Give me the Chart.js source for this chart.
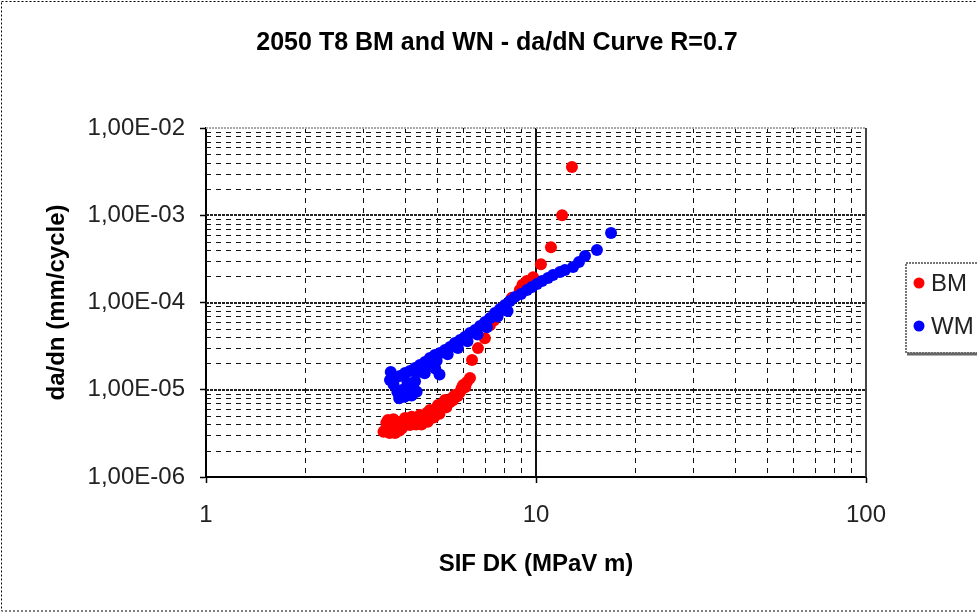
<!DOCTYPE html>
<html><head><meta charset="utf-8">
<script src="https://cdn.jsdelivr.net/npm/chart.js@4/dist/chart.umd.min.js"></script>
<style>html,body{margin:0;padding:0;background:#fff;}#wrap{width:977px;height:613px;}</style>
</head><body><div id="wrap"><canvas id="c" width="977" height="613"></canvas></div>
<script>
const chartTitle = '2050 T8 BM and WN - da/dN Curve R=0.7';
const xAxisTitle = 'SIF DK (MPaV m)';
const yAxisTitle = 'da/dn (mm/cycle)';
const seriesNames = ['BM', 'WM'];
const seriesColors = ['#ff0000', '#0000ff'];
const xDecades = [1, 10, 100];
const yDecades = [1e-6, 1e-5, 1e-4, 1e-3, 1e-2];
const minorSteps = [2, 3, 4, 5, 6, 7, 8, 9];
const xTickLabels = ['1', '10', '100'];
const yTickLabels = ['1,00E-06', '1,00E-05', '1,00E-04', '1,00E-03', '1,00E-02'];

// BM series
const bmK = [3.45,3.49,3.52,3.56,3.60,3.66,3.70,3.74,3.78,3.82,3.86,3.93,3.97,4.01,4.07,4.15,4.20,4.27,4.33,4.39,4.45,4.53,4.61,4.69,4.77,4.85,4.94,5.00,5.05,5.12,5.19,5.25,5.30,5.40,5.49,5.58,5.68,5.78,5.89,5.95,6.01,6.10,6.18,6.31,
  4.50,4.70,4.90,5.10,5.35,5.60,
  6.40,6.67,7.00,7.25,7.45,7.61,7.85,8.06,8.44,8.93,9.10,9.38,9.80,10.35,11.1,12.0,12.85];
const bmRate = [3.3e-6,3.46e-6,4.2e-6,4.5e-6,3.2e-6,3.74e-6,4.6e-6,3.19e-6,3.9e-6,4.27e-6,3.4e-6,3.65e-6,4.4e-6,4.75e-6,4.1e-6,3.94e-6,4.9e-6,4.5e-6,4.0e-6,4.3e-6,5.14e-6,4.6e-6,4.75e-6,5.5e-6,5.86e-6,5.1e-6,5.42e-6,6.2e-6,6.68e-6,6.0e-6,6.18e-6,7.0e-6,7.62e-6,6.9e-6,7.24e-6,8.1e-6,8.71e-6,8.4e-6,9.42e-6,1.04e-5,1.13e-5,1.07e-5,1.23e-5,1.36e-5,
  4.0e-6,4.3e-6,4.8e-6,5.3e-6,6.3e-6,7.6e-6,
  2.19e-5,3.0e-5,3.9e-5,5.5e-5,6.2e-5,7.0e-5,8.2e-5,9.3e-5,1.13e-4,1.39e-4,1.6e-4,1.76e-4,1.95e-4,2.75e-4,4.3e-4,1.0e-3,3.57e-3];

// WM series
const wmK = [16.88,15.30,14.08,13.5,12.95,12.24,11.82,11.26,10.87,10.43,10.07,9.72,9.39,9.01,8.64,8.34,8.06,7.78,7.51,7.26,7.01,6.77,6.54,6.31,6.09,5.89,5.68,5.49,5.30,5.12,4.94,4.77,4.61,4.45,4.30,4.15,4.01,3.87,3.74,3.61,
  8.2,7.65,7.1,6.65,6.2,5.8,5.4,5.0,4.7,4.4,
  3.80,3.87,3.95,4.01,4.08,4.15,4.25,4.30,3.70,3.63,4.95,5.10,4.60,3.85,4.00,4.20,4.35];
const wmRate = [6.26e-4,4.0e-4,3.41e-4,2.91e-4,2.55e-4,2.36e-4,2.24e-4,2.07e-4,1.91e-4,1.76e-4,1.63e-4,1.51e-4,1.39e-4,1.25e-4,1.16e-4,1.04e-4,9.36e-5,8.42e-5,7.58e-5,6.64e-5,5.98e-5,5.38e-5,4.84e-5,4.47e-5,4.02e-5,3.72e-5,3.43e-5,3.09e-5,2.85e-5,2.64e-5,2.5e-5,2.31e-5,2.08e-5,1.92e-5,1.78e-5,1.64e-5,1.56e-5,1.44e-5,1.36e-5,1.29e-5,
  8.0e-5,6.9e-5,5.2e-5,4.3e-5,3.6e-5,3.0e-5,2.55e-5,2.15e-5,1.9e-5,1.6e-5,
  9.42e-6,8.71e-6,1.0e-5,9.18e-6,1.2e-5,1.13e-5,1.05e-5,1.25e-5,1.15e-5,1.6e-5,1.75e-5,1.5e-5,1.55e-5,8.0e-6,8.3e-6,8.6e-6,9.5e-6];

const FONT = "'Liberation Sans', Arial, sans-serif";

function toPoints(xs, ys) { return xs.map((v, i) => ({x: v, y: ys[i]})); }
function isDecade(list, v) { return list.findIndex(d => Math.abs(d - v) / d < 1e-6); }
function logTicks(decades) {
  const out = [];
  decades.forEach((d, i) => {
    out.push({value: d, major: true});
    if (i < decades.length - 1) minorSteps.forEach(m => out.push({value: d * m, major: false}));
  });
  return out;
}

const framePlugin = {
  id: 'frame',
  beforeDraw(chart) {
    const c = chart.ctx;
    c.save();
    c.fillStyle = '#fff';
    c.fillRect(0, 0, chart.width, chart.height);
    c.strokeStyle = '#000';
    c.lineWidth = 1;
    c.setLineDash([2, 2]);
    c.strokeRect(1.5, 1.5, chart.width + 5, chart.height - 3.5);
    c.restore();
  },
  beforeDatasetsDraw(chart) {
    const c = chart.ctx, a = chart.chartArea, xs = chart.scales.x, ys = chart.scales.y;
    const line = (x1, y1, x2, y2) => { c.beginPath(); c.moveTo(x1, y1); c.lineTo(x2, y2); c.stroke(); };
    c.save();
    // minor lines
    c.strokeStyle = '#111'; c.lineWidth = 1; c.setLineDash([5, 5]);
    xs.ticks.forEach(t => {
      if (isDecade(xDecades, t.value) >= 0) return;
      const p = Math.round(xs.getPixelForValue(t.value)) + 0.5;
      line(p, a.top, p, a.bottom);
    });
    ys.ticks.forEach(t => {
      if (isDecade(yDecades, t.value) >= 0) return;
      const p = Math.round(ys.getPixelForValue(t.value)) + 0.5;
      line(a.left, p, a.right, p);
    });
    // major horizontal lines
    c.strokeStyle = '#222'; c.lineWidth = 2; c.setLineDash([3, 1]);
    yDecades.forEach((d, i) => {
      if (i === 0 || i === yDecades.length - 1) return;
      const p = Math.round(ys.getPixelForValue(d));
      line(a.left, p, a.right, p);
    });
    // major vertical lines
    c.strokeStyle = '#111'; c.lineWidth = 2; c.setLineDash([]);
    xDecades.forEach((d, i) => {
      if (i === 0 || i === xDecades.length - 1) return;
      const p = Math.round(xs.getPixelForValue(d));
      line(p, a.top, p, a.bottom);
    });
    // top and right frame of plot
    c.strokeStyle = '#aaa'; c.lineWidth = 2; c.setLineDash([2, 1]);
    line(a.left, ys.getPixelForValue(yDecades[yDecades.length - 1]), a.right, ys.getPixelForValue(yDecades[yDecades.length - 1]));
    c.strokeStyle = '#444'; c.lineWidth = 2; c.setLineDash([]);
    const rx = Math.round(xs.getPixelForValue(xDecades[xDecades.length - 1]));
    line(rx, a.top, rx, a.bottom);
    c.restore();
  },
  afterDraw(chart) {
    const c = chart.ctx;
    c.save();
    // title
    c.fillStyle = '#000';
    c.font = 'bold 25px ' + FONT;
    c.textAlign = 'center';
    c.textBaseline = 'middle';
    c.fillText(chartTitle, 497, 43);
    // legend
    const bx = 905, by = 262, bw = 90, bh = 90;
    c.fillStyle = '#fff';
    c.fillRect(bx, by, bw, bh);
    c.strokeStyle = '#777'; c.lineWidth = 2; c.setLineDash([2, 1]);
    c.strokeRect(bx + 1, by + 1, bw, bh);
    c.setLineDash([]);
    c.strokeStyle = '#666'; c.lineWidth = 3;
    c.beginPath(); c.moveTo(bx + 2, by + bh + 2); c.lineTo(bx + bw + 2, by + bh + 2); c.stroke();
    chart.data.datasets.forEach((ds, i) => {
      const ly = 283 + i * 43;
      c.fillStyle = ds.backgroundColor;
      c.beginPath(); c.arc(919, ly, 5.5, 0, Math.PI * 2); c.fill();
      c.fillStyle = '#222';
      c.font = '24px ' + FONT;
      c.textAlign = 'left';
      c.textBaseline = 'middle';
      c.fillText(ds.label, 931, ly + 1);
    });
    c.restore();
  }
};

new Chart(document.getElementById('c'), {
  type: 'scatter',
  data: {
    datasets: [
      {label: seriesNames[0], data: toPoints(bmK, bmRate), backgroundColor: seriesColors[0], borderColor: seriesColors[0], pointRadius: 6, borderWidth: 0, order: 1},
      {label: seriesNames[1], data: toPoints(wmK, wmRate), backgroundColor: seriesColors[1], borderColor: seriesColors[1], pointRadius: 6, borderWidth: 0, order: 0}
    ]
  },
  options: {
    responsive: false,
    animation: false,
    devicePixelRatio: 1,
    layout: {padding: {left: 0, right: 111, top: 128, bottom: 0}},
    plugins: {legend: {display: false}, title: {display: false}, tooltip: {enabled: false}},
    scales: {
      x: {
        type: 'logarithmic', min: xDecades[0], max: xDecades[xDecades.length - 1],
        afterBuildTicks: s => { s.ticks = logTicks(xDecades); },
        afterFit: s => { s.height = 136; },
        ticks: {
          autoSkip: false, maxRotation: 0, padding: 18, color: '#222',
          font: {family: FONT, size: 24},
          callback: v => { const i = isDecade(xDecades, v); return i >= 0 ? xTickLabels[i] : ''; }
        },
        grid: {drawOnChartArea: false, drawTicks: true, tickLength: 6, tickWidth: 1.5,
          tickColor: ctx => (ctx.tick && isDecade(xDecades, ctx.tick.value) >= 0) ? '#000' : 'rgba(0,0,0,0)'},
        border: {display: true, color: '#000', width: 2},
        title: {display: true, text: xAxisTitle, color: '#000', font: {family: FONT, size: 24, weight: 'bold'}, padding: {top: 0, bottom: 34}}
      },
      y: {
        type: 'logarithmic', min: yDecades[0], max: yDecades[yDecades.length - 1],
        afterBuildTicks: s => { s.ticks = logTicks(yDecades); },
        afterFit: s => { s.width = 206; },
        ticks: {
          autoSkip: false, padding: 15, color: '#222',
          font: {family: FONT, size: 24},
          callback: v => { const i = isDecade(yDecades, v); return i >= 0 ? yTickLabels[i] : ''; }
        },
        grid: {drawOnChartArea: false, drawTicks: true, tickLength: 6, tickWidth: 1.5,
          tickColor: ctx => (ctx.tick && isDecade(yDecades, ctx.tick.value) >= 0) ? '#000' : 'rgba(0,0,0,0)'},
        border: {display: true, color: '#000', width: 2},
        title: {display: true, text: yAxisTitle, color: '#000', font: {family: FONT, size: 24, weight: 'bold'}, padding: {top: 43, bottom: 0}}
      }
    }
  },
  plugins: [framePlugin]
});
</script></body></html>
